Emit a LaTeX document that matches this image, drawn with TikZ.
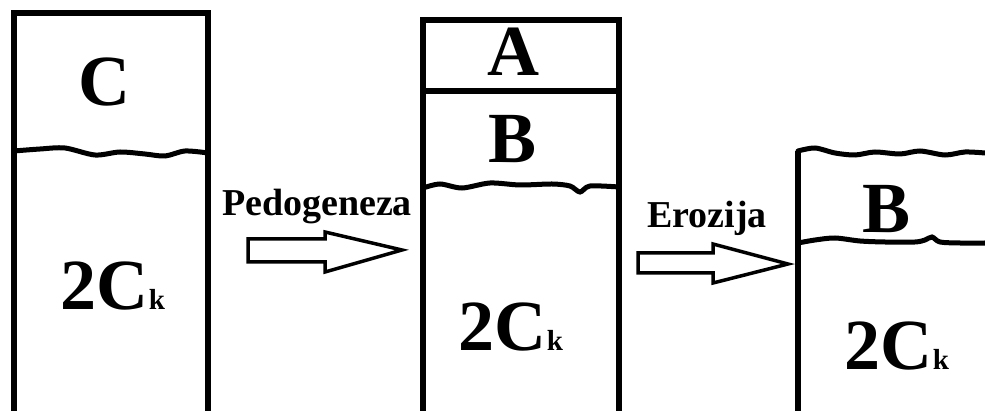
\documentclass[tikz,border=0pt]{standalone}
\usepackage{fontspec}
\setmainfont{Liberation Serif}
\usetikzlibrary{positioning}

\begin{document}
\begin{tikzpicture}[
    x=1pt, y=-1pt,
    wall/.style={line width=5.5pt, line join=miter},
    horizon/.style={line width=5pt, line cap=round},
    layer/.style={font=\fontsize{72}{72}\selectfont\bfseries, inner sep=0pt},
    process/.style={font=\fontsize{38}{38}\selectfont\bfseries, inner sep=0pt},
    fatarrow/.style={line width=3.5pt, line join=miter, fill=white}
]
\useasboundingbox (0,0) rectangle (985,411);

% first profile
\draw[wall] (14,411) -- (14,13) -- (208,13) -- (208,411);
\draw[horizon] plot[smooth] coordinates {(14,151) (40,149) (65,148) (95,155) (120,152) (145,154) (165,156) (185,151) (208,153)};
\node[layer] (c1) at (104,82) {C};
\node[layer] (ck1) at (113,286) {2C{\fontsize{29}{29}\selectfont k}};

% first transition
\node[process] (ped) at (317,207) {Pedogeneza};
\draw[fatarrow] (248,239) -- (325,239) -- (325,232) -- (402,250) -- (325,272) -- (325,262) -- (248,262) -- cycle;

% second profile
\draw[wall] (423,411) -- (423,20) -- (619,20) -- (619,411);
\draw[line width=5.5pt] (423,91) -- (619,91);
\draw[horizon] plot[smooth] coordinates {(423,188) (440,184) (462,188) (490,183) (520,185) (552,184) (570,186) (580,192) (590,186) (619,187)};
\node[layer] (a2) at (513,52) {A};
\node[layer] (b2) at (513,139) {B};
\node[layer] (ck2) at (511,327) {2C{\fontsize{29}{29}\selectfont k}};

% second transition
\node[process] (ero) at (707,218) {Erozija};
\draw[fatarrow] (638,253) -- (713,253) -- (713,244) -- (788,264) -- (713,283) -- (713,273) -- (638,273) -- cycle;

% third profile
\draw[wall] (798,411) -- (798,151);
\draw[horizon] plot[smooth] coordinates {(798,151) (815,148) (835,153) (855,155) (875,152) (900,154) (920,151) (945,155) (965,152) (985,153)};
\draw[horizon] plot[smooth] coordinates {(798,243) (815,240) (835,238) (860,241) (885,242) (915,242) (925,240) (932,237) (940,242) (960,243) (985,243)};
\node[layer] (b3) at (887,209) {B};
\node[layer] (ck3) at (897,346) {2C{\fontsize{29}{29}\selectfont k}};
\end{tikzpicture}
\end{document}
